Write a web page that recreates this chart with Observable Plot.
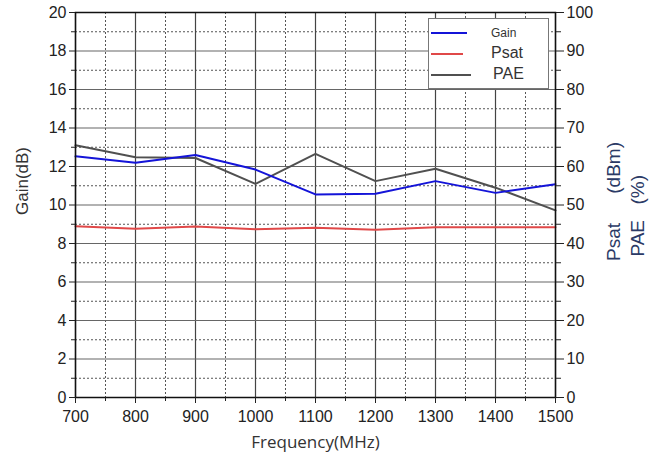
<!DOCTYPE html>
<html>
<head>
<meta charset="utf-8">
<script src="https://cdn.jsdelivr.net/npm/d3@7"></script>
<script src="https://cdn.jsdelivr.net/npm/@observablehq/plot@0.6"></script>
<style>
  body { margin: 0; background: #fff; }
  #wrap { position: relative; width: 661px; height: 463px; }
  #legend { position: absolute; left: 428px; top: 18px; width: 119px; height: 69px;
    border: 1px solid #777; background: #fff; font-family: "Liberation Sans", Arial, sans-serif; color: #333; }
  .item { position: absolute; left: 2px; height: 20px; }
  .item .ln { position: absolute; top: 9px; height: 2px; }
  .item .lb { position: absolute; white-space: nowrap; }
</style>
</head>
<body>
<div id="wrap"></div>
<script>
const freq = [700, 800, 900, 1000, 1100, 1200, 1300, 1400, 1500];
const gain = [12.53, 12.19, 12.60, 11.84, 10.55, 10.58, 11.24, 10.63, 11.08];
const psat = [44.5, 43.8, 44.4, 43.7, 44.1, 43.6, 44.2, 44.2, 44.2];
const pae  = [65.5, 62.4, 62.2, 55.5, 63.3, 56.2, 59.4, 54.5, 48.6];

const xMajor = [700, 800, 900, 1000, 1100, 1200, 1300, 1400, 1500];
const xMinor = [750, 850, 950, 1050, 1150, 1250, 1350, 1450];
const yMajor = [0, 2, 4, 6, 8, 10, 12, 14, 16, 18, 20];
const yMinor = [1, 3, 5, 7, 9, 11, 13, 15, 17, 19];
const rightFactor = 5; // right axis (Psat dBm / PAE %) = left axis value * 5

const seriesNames = ["Gain", "Psat", "PAE"];
const seriesColors = ["#1414d8", "#e04848", "#505050"];

const rows = freq.map((f, i) => ({f, gain: gain[i], psat: psat[i], pae: pae[i]}));

const font = "Liberation Sans, Arial, sans-serif";

const chart = Plot.plot({
  width: 661, height: 463,
  marginLeft: 75, marginRight: 106, marginTop: 12, marginBottom: 66,
  style: {fontFamily: font, fontSize: "16px", color: "#222", background: "#fff"},
  x: {domain: [700, 1500]},
  y: {domain: [0, 20]},
  marks: [
    Plot.ruleX(xMinor, {stroke: "#555", strokeDasharray: "2,2", strokeWidth: 1}),
    Plot.ruleY(yMinor, {stroke: "#555", strokeDasharray: "2,2", strokeWidth: 1}),
    Plot.ruleX(xMajor, {stroke: "#444", strokeWidth: 1.2}),
    Plot.ruleY(yMajor, {stroke: "#666", strokeWidth: 1.2}),
    Plot.line(rows, {x: "f", y: d => d.psat / rightFactor, stroke: seriesColors[1], strokeWidth: 2}),
    Plot.line(rows, {x: "f", y: d => d.pae / rightFactor, stroke: seriesColors[2], strokeWidth: 2}),
    Plot.line(rows, {x: "f", y: "gain", stroke: seriesColors[0], strokeWidth: 2}),
    Plot.frame({stroke: "#111", strokeWidth: 1.5}),
    Plot.axisX({ticks: xMajor, tickSize: 6, tickPadding: 7, label: null, tickFormat: d => String(d), fontSize: 16}),
    Plot.axisX({ticks: xMinor, tickSize: 4, tickFormat: () => "", label: null}),
    Plot.axisY({ticks: yMajor, tickSize: 6, tickPadding: 3, label: null, tickFormat: d => String(d), fontSize: 16}),
    Plot.axisY({ticks: yMinor, tickSize: 4, tickFormat: () => "", label: null}),
    Plot.axisY({anchor: "right", ticks: yMajor, tickSize: 8, tickPadding: 3, label: null, tickFormat: d => String(d * rightFactor), fontSize: 16}),
    Plot.axisY({anchor: "right", ticks: yMinor, tickSize: 5, tickFormat: () => "", label: null}),
    Plot.text(["Frequency(MHz)"], {frameAnchor: "bottom", dy: 50, fontFamily: "Open Sans, sans-serif", fontSize: 17, fill: "#333"}),
    Plot.text(["Gain(dB)"], {frameAnchor: "left", dx: -53, dy: 10, rotate: -90, fontSize: 17, fill: "#333"}),
    Plot.text(["Psat"], {frameAnchor: "right", dx: 58, dy: 18, rotate: -90, fontSize: 19, fill: "#2b3a66"}),
    Plot.text(["(dBm)"], {frameAnchor: "right", dx: 58, dy: -63, rotate: -90, fontSize: 19, fill: "#2b3a66"}),
    Plot.text(["PAE"], {frameAnchor: "right", dx: 82, dy: 15, rotate: -90, fontSize: 19, fill: "#2b3a66"}),
    Plot.text(["(%)"], {frameAnchor: "right", dx: 82, dy: -30, rotate: -90, fontSize: 19, fill: "#2b3a66"})
  ]
});

const wrap = document.getElementById("wrap");
wrap.appendChild(chart);

// legend
const legend = document.createElement("div");
legend.id = "legend";
const legendSpec = [
  {top: 4, lineW: 36, labelLeft: 60, size: 12},
  {top: 25, lineW: 32, labelLeft: 60, size: 16},
  {top: 46, lineW: 40, labelLeft: 62, size: 16}
];
seriesNames.forEach((name, i) => {
  const s = legendSpec[i];
  const it = document.createElement("div");
  it.className = "item";
  it.style.top = s.top + "px";
  it.style.width = "115px";
  const ln = document.createElement("div");
  ln.className = "ln";
  ln.style.left = "0px";
  ln.style.width = s.lineW + "px";
  ln.style.background = seriesColors[i];
  const lb = document.createElement("div");
  lb.className = "lb";
  lb.style.left = s.labelLeft + "px";
  lb.style.fontSize = s.size + "px";
  lb.style.top = (10 - s.size * 0.6) + "px";
  lb.textContent = name;
  it.appendChild(ln);
  it.appendChild(lb);
  legend.appendChild(it);
});
wrap.appendChild(legend);
</script>
</body>
</html>
